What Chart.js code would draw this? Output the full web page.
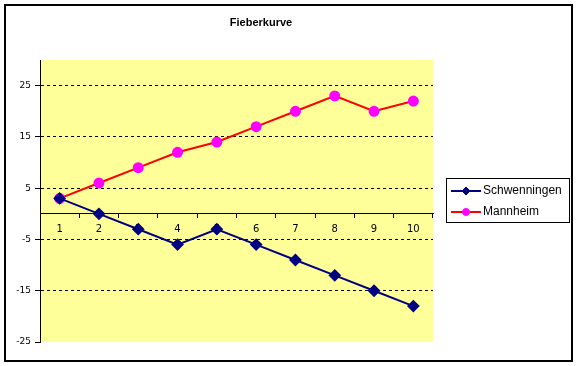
<!DOCTYPE html>
<html><head><meta charset="utf-8">
<script src="https://cdn.jsdelivr.net/npm/chart.js@4"></script>
<style>html,body{margin:0;padding:0;background:#fff}#wrap{width:578px;height:366px;position:relative}</style>
</head><body><div id="wrap"><canvas id="c" width="578" height="366"></canvas></div>
<script>
const categories = ['1','2','3','4','5','6','7','8','9','10'];
const schwenningen = [3,0,-3,-6,-3,-6,-9,-12,-15,-18];
const mannheim = [3,6,9,12,14,17,20,23,20,22];
const yTicks = [-25,-15,-5,5,15,25];
const titleText = 'Fieberkurve';
const seriesNames = ['Schwenningen','Mannheim'];

const decor = {
  id: 'decor',
  beforeDraw(chart) {
    const {ctx, chartArea: a} = chart;
    ctx.save();
    ctx.fillStyle = '#fff';
    ctx.fillRect(0, 0, chart.width, chart.height);
    ctx.fillStyle = '#FFFF99';
    ctx.fillRect(a.left, a.top, a.right - a.left, a.bottom - a.top);
    ctx.restore();
  },
  afterDraw(chart) {
    const ctx = chart.ctx;
    ctx.save();
    ctx.strokeStyle = '#000';
    ctx.lineWidth = 2;
    ctx.strokeRect(5, 5, 567, 356);
    ctx.fillStyle = '#000';
    ctx.font = 'bold 11px "Liberation Sans"';
    ctx.textAlign = 'center';
    ctx.textBaseline = 'middle';
    ctx.fillText(titleText, 261, 23);
    ctx.fillStyle = '#fff';
    ctx.fillRect(446, 178, 123, 44);
    ctx.lineWidth = 1;
    ctx.strokeStyle = '#000';
    ctx.strokeRect(446.5, 178.5, 123, 44);
    const rows = [191, 212];
    chart.data.datasets.forEach((ds, i) => {
      const y = rows[i];
      ctx.strokeStyle = ds.borderColor;
      ctx.lineWidth = 2;
      ctx.beginPath(); ctx.moveTo(451, y); ctx.lineTo(481, y); ctx.stroke();
      ctx.fillStyle = ds.pointBackgroundColor;
      ctx.strokeStyle = ds.pointBorderColor;
      ctx.lineWidth = 1;
      ctx.beginPath();
      if (ds.pointStyle === 'rectRot') {
        ctx.moveTo(466, y - 4); ctx.lineTo(470, y); ctx.lineTo(466, y + 4); ctx.lineTo(462, y); ctx.closePath();
      } else {
        ctx.arc(466, y, 3.5, 0, Math.PI * 2);
      }
      ctx.fill(); ctx.stroke();
      ctx.fillStyle = '#000';
      ctx.font = '12px "Liberation Sans"';
      ctx.textAlign = 'left';
      ctx.textBaseline = 'middle';
      ctx.fillText(ds.label, 483, y);
    });
    ctx.restore();
  }
};

new Chart(document.getElementById('c'), {
  type: 'line',
  data: {
    labels: categories,
    datasets: [
      { label: seriesNames[0], data: schwenningen, borderColor: '#000080', backgroundColor: '#000080',
        pointBackgroundColor: '#000080', pointBorderColor: '#000080', pointStyle: 'rectRot',
        pointRadius: 5, borderWidth: 2, tension: 0 },
      { label: seriesNames[1], data: mannheim, borderColor: '#FF0000', backgroundColor: '#FF0000',
        pointBackgroundColor: '#FF00FF', pointBorderColor: '#FF00FF', pointStyle: 'circle',
        pointRadius: 4.5, borderWidth: 2, tension: 0 }
    ]
  },
  options: {
    responsive: false, animation: false, devicePixelRatio: 1,
    layout: { padding: { left: 0, top: 60, right: 145, bottom: 24 } },
    plugins: { legend: { display: false }, title: { display: false }, tooltip: { enabled: false } },
    scales: {
      x: {
        type: 'category', offset: true, position: { y: 0 },
        grid: { drawOnChartArea: false, drawTicks: true, tickLength: 4, color: '#000', offset: true },
        border: { display: true, color: '#000', width: 1 },
        ticks: { color: '#000', font: { family: 'DejaVu Sans', size: 10 }, padding: 6, maxRotation: 0 }
      },
      y: {
        min: -25, max: 30,
        afterBuildTicks: (s) => { s.ticks = yTicks.map(v => ({ value: v })); },
        afterFit: (s) => { s.width = 40; },
        grid: {
          color: (c) => (c.tick && c.tick.value === -25) ? 'rgba(0,0,0,0)' : '#000',
          tickColor: '#000', tickLength: 5, lineWidth: 1
        },
        border: { display: true, color: '#000', width: 1, dash: [3, 3] },
        ticks: { color: '#000', font: { family: 'DejaVu Sans', size: 9 }, padding: 4 }
      }
    }
  },
  plugins: [decor]
});
</script></body></html>
